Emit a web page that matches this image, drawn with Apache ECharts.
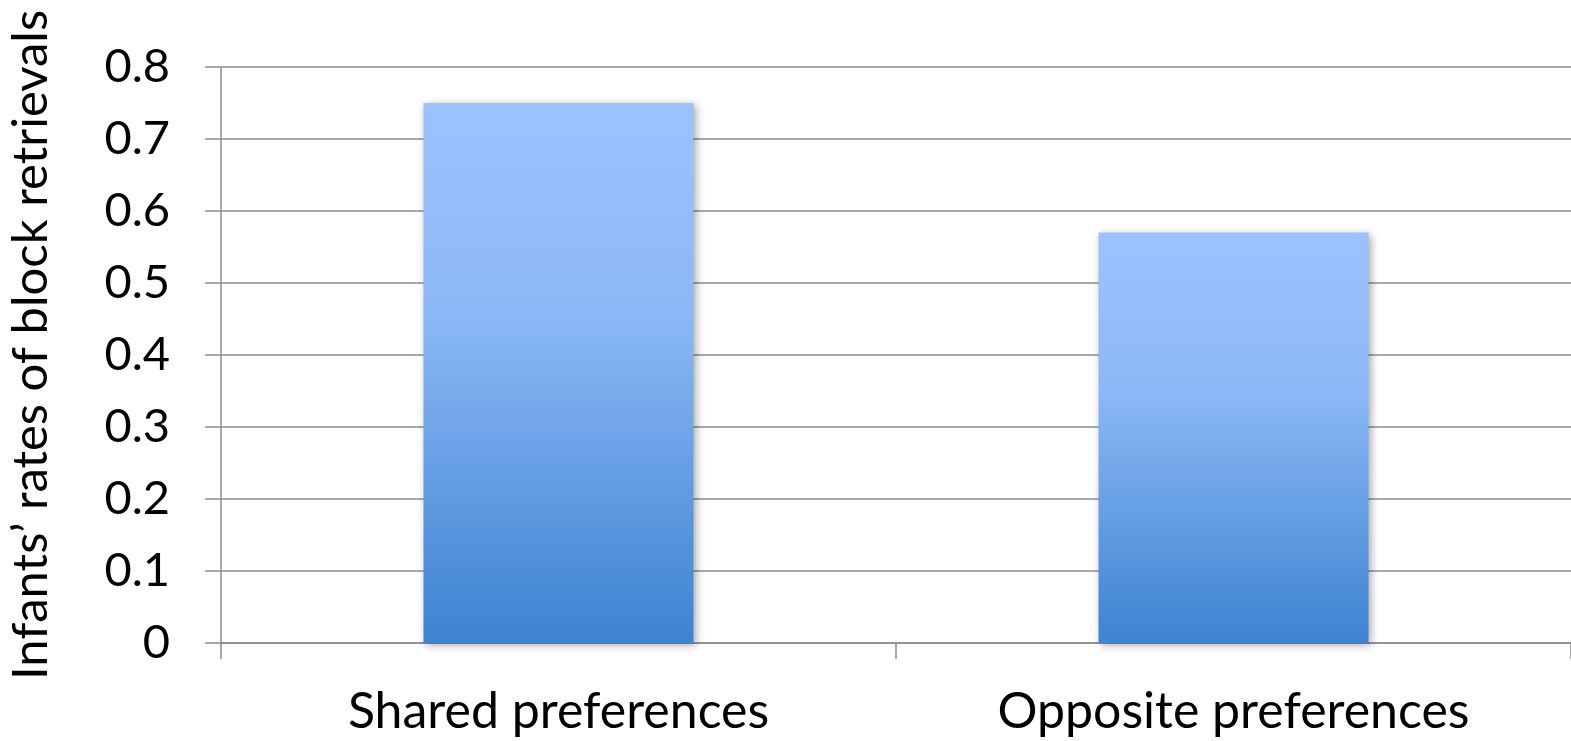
<!DOCTYPE html>
<html>
<head>
<meta charset="utf-8">
<script src="https://cdn.jsdelivr.net/npm/echarts@6/dist/echarts.min.js"></script>
<style>
  html, body { margin: 0; padding: 0; background: #fff; }
  #chart { width: 1571px; height: 741px; }
</style>
</head>
<body>
<div id="chart"></div>
<script>
// Block retrieval rates by preference condition
const categories = ['Shared preferences', 'Opposite preferences'];
const retrievalRates = [0.75, 0.57];
const yTicks = [0, 0.1, 0.2, 0.3, 0.4, 0.5, 0.6, 0.7, 0.8];
const yAxisTitle = 'Infants\u2019 rates of block retrievals';

const FONT = 'Lato';
const chart = echarts.init(document.getElementById('chart'), null, { renderer: 'canvas' });

chart.setOption({
  animation: false,
  backgroundColor: '#ffffff',
  grid: { left: 221, right: 0, top: 67, bottom: 98, containLabel: false, outerBoundsMode: 'none' },
  xAxis: {
    type: 'category',
    data: categories,
    axisLine: { show: true, lineStyle: { color: '#8c8c8c', width: 1.5 } },
    axisTick: { show: true, length: 16, lineStyle: { color: '#8c8c8c', width: 1.5 } },
    axisLabel: { color: '#000', fontFamily: FONT, fontSize: 50, margin: 44 }
  },
  yAxis: {
    type: 'value',
    min: yTicks[0],
    max: yTicks[yTicks.length - 1],
    interval: 0.1,
    name: yAxisTitle,
    nameLocation: 'middle',
    nameGap: 165,
    nameTextStyle: { color: '#000', fontFamily: FONT, fontSize: 49, padding: [0, 0, 0, 20] },
    axisLine: { show: true, lineStyle: { color: '#8c8c8c', width: 1.5 } },
    axisTick: { show: true, length: 16, lineStyle: { color: '#8c8c8c', width: 1.5 } },
    splitLine: { show: true, lineStyle: { color: '#8c8c8c', width: 1.5 } },
    axisLabel: {
      color: '#000', fontFamily: FONT, fontSize: 47, margin: 51,
      formatter: v => (Math.round(v * 10) / 10).toString()
    }
  },
  series: [{
    type: 'bar',
    data: retrievalRates,
    barWidth: '40%',
    itemStyle: {
      color: new echarts.graphic.LinearGradient(0, 0, 0, 1, [
        { offset: 0, color: '#9dc3ff' },
        { offset: 0.4, color: '#8ab7f5' },
        { offset: 1, color: '#3d83d1' }
      ]),
      shadowColor: 'rgba(0,0,0,0.35)',
      shadowBlur: 8,
      shadowOffsetX: 2,
      shadowOffsetY: 2
    }
  }]
});
</script>
</body>
</html>
